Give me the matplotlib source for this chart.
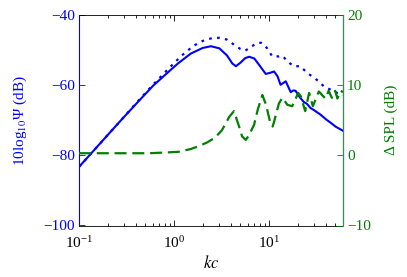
import matplotlib
matplotlib.use("Agg")
import matplotlib.pyplot as plt
from matplotlib.ticker import LogLocator, NullFormatter

plt.rcParams['font.family'] = ['Liberation Serif', 'DejaVu Serif']
plt.rcParams['mathtext.fontset'] = 'stix'
plt.rcParams['font.size'] = 11

BLUE = '#0000ff'
GREEN = '#008000'

# solid blue curve (left axis, dB)
kc_solid = [0.1, 0.15, 0.262, 0.4, 0.6, 0.9, 1.09, 1.5, 2.0, 2.45, 3.0, 3.6,
            4.1, 4.48, 5.0, 5.6, 6.18, 7.0, 8.0, 9.23, 10.2, 11.3, 12.3, 13.2,
            15.0, 16.9, 18.0, 19.0, 21.0, 23.2, 25.0, 27.3, 30.0, 34.8, 40.0,
            45.0, 50.0, 60.0]
psi_solid = [-83.3, -78.0, -70.7, -65.3, -60.2, -55.9, -53.9, -51.0, -49.4,
             -48.9, -49.5, -51.5, -53.8, -54.6, -53.6, -52.3, -51.9, -52.4,
             -54.5, -56.8, -56.5, -56.1, -57.5, -59.9, -58.9, -62.0, -61.5,
             -61.6, -63.4, -64.8, -65.3, -66.5, -67.2, -68.4, -69.8, -70.8,
             -71.8, -73.0]

# dotted blue curve (left axis, dB)
kc_dot = [0.1, 0.15, 0.262, 0.4, 0.6, 0.897, 1.2, 1.6, 2.0, 2.5, 3.0, 3.6,
          4.3, 5.0, 5.6, 6.5, 7.5, 8.2, 9.0, 9.6, 10.8, 12.7, 13.8, 15.6,
          18.1, 21.3, 25.2, 28.4, 33.4, 37.5, 44.4, 51.9, 60.0]
psi_dot = [-83.3, -78.0, -70.7, -65.1, -59.9, -55.0, -51.6, -48.8, -47.4,
           -46.6, -46.5, -47.0, -48.5, -49.7, -50.2, -49.0, -48.0, -47.9,
           -48.6, -49.6, -51.8, -51.8, -51.6, -53.2, -54.6, -54.6, -56.5,
           -57.5, -58.9, -60.3, -61.3, -62.2, -62.8]

# dashed green curve (right axis, delta SPL dB)
kc_spl = [0.1, 0.3, 0.55, 0.8, 1.11, 1.5, 1.81, 2.2, 2.7, 3.2, 3.82, 4.27,
          4.84, 5.2, 5.69, 6.18, 6.97, 7.6, 8.5, 9.3, 10.4, 10.9, 11.3, 12.7,
          13.8, 15.6, 17.5, 20.3, 21.6, 24.0, 26.4, 28.9, 33.4, 36.1, 39.2,
          42.4, 45.8, 49.6, 52.4, 56.7, 60.0]
dspl = [0.3, 0.3, 0.3, 0.4, 0.5, 0.9, 1.3, 1.8, 2.5, 3.6, 5.5, 6.3, 4.1, 2.7,
        2.2, 2.9, 4.4, 6.5, 8.6, 7.2, 4.4, 4.1, 4.8, 7.4, 8.2, 7.2, 7.0, 8.9,
        8.4, 6.3, 8.9, 7.0, 9.1, 8.6, 8.1, 9.2, 8.2, 9.2, 8.1, 9.2, 9.0]

fig = plt.figure(figsize=(4.07, 2.77), dpi=100)
ax = fig.add_axes([79 / 407, 1 - 225.5 / 277, (343 - 79) / 407, (225.5 - 15) / 277])
ax2 = ax.twinx()

ax.semilogx(kc_solid, psi_solid, color=BLUE, lw=1.5)
ax.semilogx(kc_dot, psi_dot, color=BLUE, lw=1.6, ls=(0, (1.2, 2.4)))
ax2.semilogx(kc_spl, dspl, color=GREEN, lw=1.6, ls=(0, (5.4, 2.6)))

ax.set_xlim(0.1, 60)
ax.set_ylim(-100, -40)
ax.set_yticks([-100, -80, -60, -40])
ax2.set_ylim(-10, 20)
ax2.set_yticks([-10, 0, 10, 20])

ax.xaxis.set_major_locator(LogLocator(base=10, numticks=10))
ax.xaxis.set_minor_locator(LogLocator(base=10, subs=range(2, 10), numticks=10))
ax.xaxis.set_minor_formatter(NullFormatter())

ax.tick_params(axis='x', which='both', direction='in', top=True, colors='black')
ax.tick_params(axis='x', which='major', length=4, width=0.6, pad=7)
ax.tick_params(axis='x', which='minor', length=2, width=0.6)
ax.tick_params(axis='y', direction='in', length=4, width=0.6, colors=BLUE, pad=3)
ax2.tick_params(axis='y', direction='in', length=4, width=0.6, colors=GREEN, pad=3)

for s in ['top', 'bottom']:
    ax.spines[s].set_linewidth(0.6)
ax.spines['left'].set_color(BLUE)
ax.spines['left'].set_linewidth(0.8)
ax2.spines['right'].set_color('#3b8a5a')
ax2.spines['right'].set_linewidth(0.8)
ax2.spines['left'].set_visible(False)
ax2.spines['top'].set_visible(False)
ax2.spines['bottom'].set_visible(False)

ax.set_xlabel('$kc$', fontsize=12, labelpad=3)
ax.set_ylabel('10log$_{10}$Ψ (dB)', color=BLUE, labelpad=10)
ax2.set_ylabel('Δ SPL (dB)', color=GREEN, labelpad=10)

fig.savefig('out.png', dpi=100)
